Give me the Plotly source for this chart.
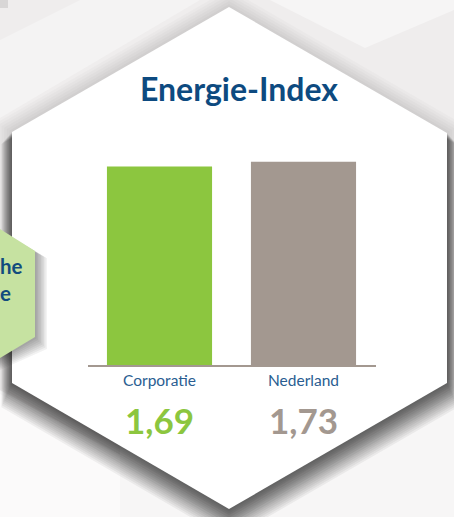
import plotly.graph_objects as go

W, H = 454, 517

categories = ["Corporatie", "Nederland"]
values = [1.69, 1.73]
value_labels = ["1,69", "1,73"]
bar_colors = ["#8cc63f", "#a39890"]
title_text = "Energie-Index"
side_lines = ["he", "e"]


def P(x, y):
    return x / W, 1 - y / H


def path(pts):
    s = ""
    for i, (x, y) in enumerate(pts):
        px, py = P(x, y)
        s += ("M" if i == 0 else "L") + f"{px:.5f},{py:.5f} "
    return s + "Z"


def poly(pts, color):
    return dict(type="path", xref="paper", yref="paper", layer="below", line_width=0,
                fillcolor=color, path=path(pts))


shapes = []
# background tiles
shapes.append(poly([(200, 0), (454, 0), (454, 10), (365, 48), (270, 0)], "#f6f5f5"))
shapes.append(poly([(120, 380), (454, 380), (454, 517), (120, 517)], "#f7f6f6"))
shapes.append(poly([(0, 40), (80, 0), (200, 0), (0, 118)], "#f4f3f3"))
shapes.append(poly([(0, 390), (120, 455), (120, 517), (0, 517)], "#fbfafa"))
shapes.append(poly([(0, 0), (8, 0), (8, 8), (0, 8)], "#d8d6d6"))

# main hexagon shadow + body
hexpts = [(229, 7), (447, 133), (447, 383), (229, 509), (12, 383), (12, 132)]
cx, cy = 229, 258
for k in range(6, 0, -1):
    s = 1 + k * 0.012
    pts = [(cx + (x - cx) * s, cy + (y - cy) * s) for x, y in hexpts]
    shapes.append(poly(pts, "rgba(0,0,0,0.018)"))
for k in range(14, 0, -1):
    s = 1 + k * 0.0035
    dy = k * 1.3
    pts = [(cx + (x - cx) * s, cy + (y - cy) * s + dy) for x, y in hexpts]
    shapes.append(poly(pts, "rgba(0,0,0,0.05)"))
shapes.append(poly(hexpts, "#ffffff"))

# green side hexagon with shadow (sits on top of the main one)
for k in range(8, 0, -1):
    d = k * 1.5
    pts = [(0, 229 + d * 0.4), (35 + d, 251 + d * 0.6), (35 + d, 337 + d), (0, 358 + d)]
    shapes.append(poly(pts, "rgba(0,0,0,0.05)"))
shapes.append(poly([(0, 229), (35, 251), (35, 337), (0, 358)], "#c6e2a1"))

fig = go.Figure()
fig.add_trace(go.Bar(x=categories, y=values, marker=dict(color=bar_colors, line_width=0),
                     width=0.73, hoverinfo="skip"))

annotations = [dict(text=title_text, x=239 / W, y=1 - 88 / H, xref="paper", yref="paper",
                    showarrow=False, xanchor="center", yanchor="middle",
                    font=dict(family="Lato", size=32, color="#0d4a80", weight="bold"))]
for cat, lab, col in zip(categories, value_labels, bar_colors):
    annotations.append(dict(text=lab, x=cat, y=1 - 420 / H, xref="x", yref="paper",
                            showarrow=False, xanchor="center", yanchor="middle",
                            font=dict(family="Lato", size=35, color=col, weight="bold")))
annotations.append(dict(text="<br>".join(side_lines), x=-2 / W, y=1 - 279 / H,
                        xref="paper", yref="paper", showarrow=False, align="left",
                        xanchor="left", yanchor="middle",
                        font=dict(family="Lato", size=20.5, color="#124c7e", weight="bold")))

fig.update_layout(
    width=W, height=H,
    margin=dict(l=0, r=0, t=0, b=0),
    paper_bgcolor="#efeded", plot_bgcolor="rgba(0,0,0,0)",
    showlegend=False,
    shapes=shapes,
    annotations=annotations,
    xaxis=dict(domain=[87.5 / W, 375.5 / W], range=[-0.5, 1.5], showgrid=False, zeroline=False,
               showline=True, linecolor="#a39890", linewidth=2, ticks="",
               tickfont=dict(family="Lato", size=15.5, color="#2a5d91"), fixedrange=True),
    yaxis=dict(domain=[1 - 365 / H, 1 - 155 / H], range=[0, 210 / 117.5], visible=False,
               fixedrange=True),
)

fig.write_html("out.html", config={"displayModeBar": False},
               post_script="document.body.style.margin='0';")
